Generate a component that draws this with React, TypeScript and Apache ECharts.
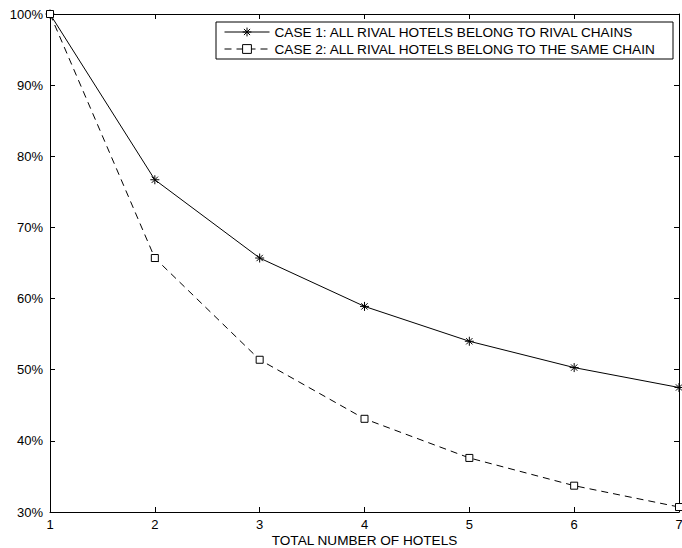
import React, { useEffect, useRef } from "react";
import * as echarts from "echarts";

const hotels = [1, 2, 3, 4, 5, 6, 7];
const case1 = [100, 76.7, 65.7, 58.9, 54.0, 50.3, 47.5];
const case2 = [100, 65.7, 51.4, 43.1, 37.6, 33.7, 30.7];
const yTicks = { min: 30, max: 100, step: 10 };
const case1Name = "CASE 1: ALL RIVAL HOTELS BELONG TO RIVAL CHAINS";
const case2Name = "CASE 2: ALL RIVAL HOTELS BELONG TO THE SAME CHAIN";
const xTitle = "TOTAL NUMBER OF HOTELS";

const FONT = "'Liberation Sans', Arial, sans-serif";
const asterisk =
  "path://M5,0L5,10M0,5L10,5M1.5,1.5L8.5,8.5M1.5,8.5L8.5,1.5";

export default function App() {
  const ref = useRef<HTMLDivElement>(null);
  useEffect(() => {
    if (!ref.current) return;
    const chart = echarts.init(ref.current, null, { renderer: "svg" });
    const axisCommon = {
      axisLine: { show: true, lineStyle: { color: "#000", width: 1 } },
      axisTick: { show: true, inside: true, length: 5, lineStyle: { color: "#000" } },
      splitLine: { show: false },
    };
    chart.setOption({
      animation: false,
      backgroundColor: "#fff",
      textStyle: { fontFamily: FONT, color: "#000" },
      grid: {
        left: 50,
        right: 3,
        top: 14,
        bottom: 36,
        containLabel: false,
        outerBoundsMode: "none",
      },
      legend: {
        orient: "vertical",
        right: 9,
        top: 22,
        itemWidth: 45,
        itemHeight: 11,
        itemGap: 3,
        itemTextGap: 3,
        padding: [3, 16, 3, 8],
        borderColor: "#000",
        borderWidth: 1,
        backgroundColor: "#fff",
        lineStyle: { width: 1 },
        itemStyle: { borderWidth: 1 },
        textStyle: { fontFamily: FONT, fontSize: 13.6, color: "#000" },
        data: [
          {
            name: case1Name,
            itemStyle: { color: "none", borderColor: "#000", borderWidth: 1 },
          },
          {
            name: case2Name,
            itemStyle: { color: "#fff", borderColor: "#000", borderWidth: 1 },
          },
        ],
      },
      xAxis: [
        {
          type: "value",
          min: hotels[0],
          max: hotels[hotels.length - 1],
          interval: 1,
          position: "bottom",
          name: xTitle,
          nameLocation: "middle",
          nameGap: 21,
          nameMoveOverlap: false,
          nameTextStyle: { fontFamily: FONT, fontSize: 13.6, color: "#000" },
          axisLabel: { fontFamily: FONT, fontSize: 13, color: "#000", margin: 6 },
          ...axisCommon,
        },
        {
          type: "value",
          min: hotels[0],
          max: hotels[hotels.length - 1],
          interval: 1,
          position: "top",
          axisLabel: { show: false },
          ...axisCommon,
        },
      ],
      yAxis: [
        {
          type: "value",
          min: yTicks.min,
          max: yTicks.max,
          interval: yTicks.step,
          position: "left",
          axisLabel: {
            fontFamily: FONT,
            fontSize: 13,
            color: "#000",
            margin: 7,
            formatter: "{value}%",
          },
          ...axisCommon,
        },
        {
          type: "value",
          min: yTicks.min,
          max: yTicks.max,
          interval: yTicks.step,
          position: "right",
          axisLabel: { show: false },
          ...axisCommon,
        },
      ],
      series: [
        {
          name: case1Name,
          type: "line",
          data: hotels.map((h, i) => [h, case1[i]]),
          symbol: asterisk,
          symbolSize: 9,
          showSymbol: true,
          lineStyle: { color: "#000", width: 1, type: "solid" },
          itemStyle: { color: "none", borderColor: "#000", borderWidth: 1 },
          z: 3,
        },
        {
          name: case2Name,
          type: "line",
          data: hotels.map((h, i) => [h, case2[i]]),
          symbol: "rect",
          symbolSize: 7,
          showSymbol: true,
          lineStyle: { color: "#000", width: 1, type: [7, 5] },
          itemStyle: { color: "#fff", borderColor: "#000", borderWidth: 1 },
          z: 3,
        },
      ],
    });
    return () => chart.dispose();
  }, []);
  return (
    <div
      ref={ref}
      style={{ position: "fixed", left: 0, top: 0, width: 682, height: 548 }}
    />
  );
}
